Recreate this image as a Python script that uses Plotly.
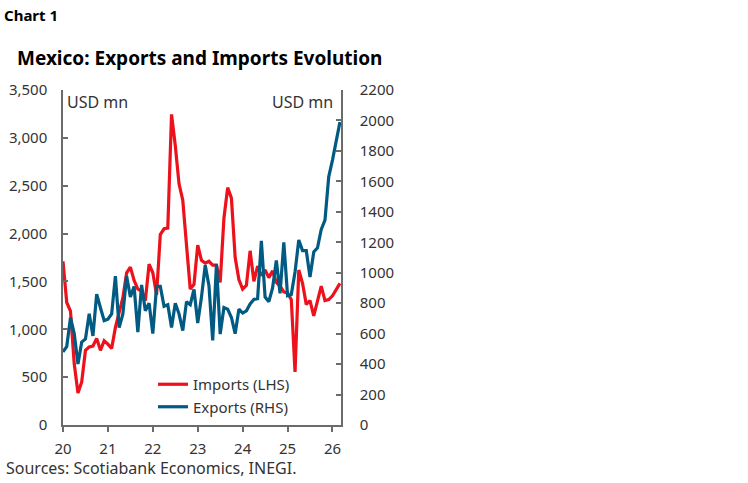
import plotly.graph_objects as go

# Monthly data, Jan 2020 - Mar 2026 (USD mn)
month_index = list(range(75))
imports_lhs = [1710, 1280, 1190, 640, 335, 450, 780, 815, 825, 905, 780, 880,
               845, 800, 1020, 1160, 1330, 1590, 1650, 1510, 1420, 1400, 1300, 1680,
               1590, 1360, 1990, 2050, 2057, 3245, 2920, 2520, 2350, 1880, 1420, 1470,
               1880, 1720, 1690, 1710, 1670, 1670, 1490, 2160, 2480, 2370, 1750, 1520,
               1420, 1460, 1820, 1500, 1660, 1560, 1620, 1540, 1610, 1490, 1450, 1390,
               1380, 1310, 555, 1620, 1480, 1260, 1300, 1140, 1300, 1450, 1300, 1310,
               1350, 1410, 1480]
exports_rhs = [480, 515, 705, 600, 400, 545, 565, 730, 585, 860, 770, 685,
               695, 730, 978, 640, 730, 978, 840, 910, 610, 920, 750, 800,
               600, 910, 910, 780, 790, 640, 800, 730, 620, 810, 790, 890,
               670, 840, 1050, 915, 555, 1055, 597, 771, 761, 706, 600, 761,
               735, 750, 795, 825, 830, 1210, 840, 810, 900, 1080, 865, 1200,
               850, 857, 1005, 1215, 1145, 1145, 972, 1136, 1164, 1284, 1345, 1630,
               1740, 1860, 1990]
x_years = [20 + m / 12 for m in month_index]
x_ticks = [20, 21, 22, 23, 24, 25, 26]
x_ticklabels = ["20", "21", "22", "23", "24", "25", "26"]
left_ticks = [0, 500, 1000, 1500, 2000, 2500, 3000, 3500]
right_ticks = [0, 200, 400, 600, 800, 1000, 1200, 1400, 1600, 1800, 2000, 2200]

RED = "#EC111A"
BLUE = "#005A82"
FONT = "Noto Sans"
AXIS = "#6b6b6b"
TXT = "#333333"

W, H = 748, 483
L, R, T, B = 63, 407, 90, 58
PW, PH = W - L - R, H - T - B


def px(xp):
    return (xp - L) / PW


def py(yp):
    return 1 - (yp - T) / PH


fig = go.Figure()
fig.add_trace(go.Scatter(x=x_years, y=imports_lhs, name="Imports (LHS)", mode="lines",
                         line=dict(color=RED, width=3.2), yaxis="y"))
fig.add_trace(go.Scatter(x=x_years, y=exports_rhs, name="Exports (RHS)", mode="lines",
                         line=dict(color=BLUE, width=3.2), yaxis="y2"))

fig.update_layout(
    width=W, height=H,
    margin=dict(l=L, r=R, t=T, b=B, autoexpand=False),
    paper_bgcolor="white", plot_bgcolor="white",
    font=dict(family=FONT, size=15, color=TXT),
    showlegend=True,
    legend=dict(x=px(153), y=py(368), xanchor="left", yanchor="top",
                bgcolor="rgba(0,0,0,0)", font=dict(size=15, color=TXT)),
    xaxis=dict(range=[20, 26.19], tickvals=x_ticks, ticktext=x_ticklabels,
               showline=True, linecolor=AXIS, linewidth=1.5, ticks="outside",
               ticklen=5, tickcolor=AXIS, tickwidth=1.5, showgrid=False, zeroline=False,
               ticklabelstandoff=4, automargin=False, tickfont=dict(size=15, color=TXT)),
    yaxis=dict(range=[0, 3500], tickvals=left_ticks, tickformat=",", showline=True,
               linecolor=AXIS, linewidth=1.5, ticks="inside", ticklen=5, tickcolor=AXIS,
               tickwidth=1.5, showgrid=False, zeroline=False, ticklabelstandoff=11,
               automargin=False, tickfont=dict(size=15, color=TXT)),
    yaxis2=dict(range=[0, 2200], tickvals=right_ticks, overlaying="y", side="right",
                showline=True, linecolor=AXIS, linewidth=1.5, ticks="inside", ticklen=5,
                tickcolor=AXIS, tickwidth=1.5, showgrid=False, zeroline=False,
                ticklabelstandoff=14, tickformat="d", automargin=False,
                tickfont=dict(size=15, color=TXT)),
)

annotations = [
    dict(text="<b>Chart 1</b>", x=px(2), y=py(15), xanchor="left", yanchor="middle",
         font=dict(size=15, color="black", family=FONT)),
    dict(text="<b>Mexico: Exports and Imports Evolution</b>", x=px(15), y=py(58),
         xanchor="left", yanchor="middle", font=dict(size=19, color="black", family=FONT)),
    dict(text="USD mn", x=px(65), y=py(102), xanchor="left", yanchor="middle",
         font=dict(size=16, color=TXT)),
    dict(text="USD mn", x=px(335), y=py(102), xanchor="right", yanchor="middle",
         font=dict(size=16, color=TXT)),
    dict(text="Sources: Scotiabank Economics, INEGI.", x=px(4), y=py(468),
         xanchor="left", yanchor="middle", font=dict(size=16, color=TXT)),
]
for a in annotations:
    a.update(xref="paper", yref="paper", showarrow=False)
fig.update_layout(annotations=annotations)

fig.write_html("out.html", config={"displayModeBar": False},
               post_script="document.body.style.margin='0';document.body.style.padding='0';")
